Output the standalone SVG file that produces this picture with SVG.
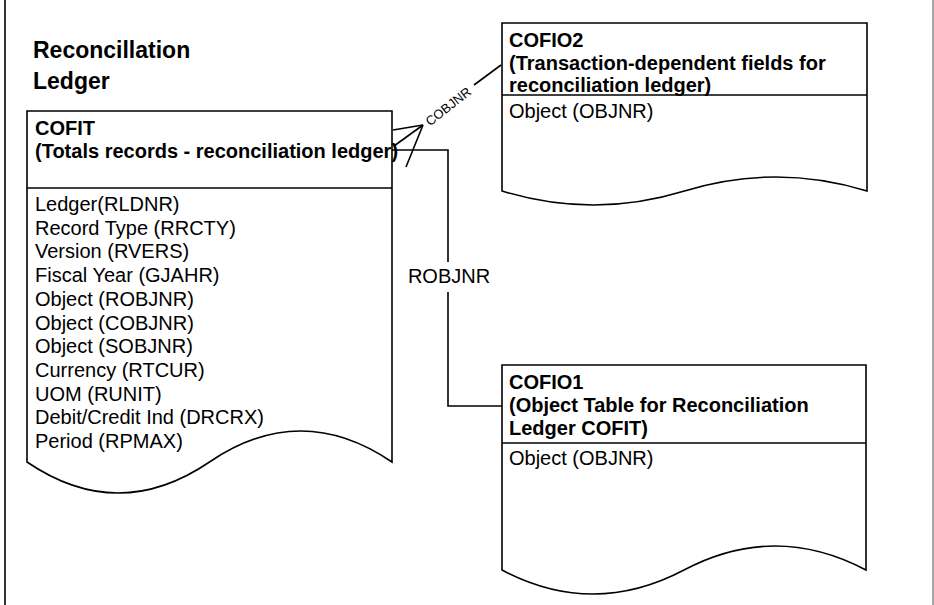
<svg xmlns="http://www.w3.org/2000/svg" width="934" height="605" viewBox="0 0 934 605">
<style>
.box{fill:#fff;stroke:#000;stroke-width:1.6}
.ln{fill:none;stroke:#000;stroke-width:1.6}
.h{font-family:"Liberation Sans",Arial,sans-serif;font-size:20px;font-weight:bold;fill:#000}
.t{font-family:"Liberation Sans",Arial,sans-serif;font-size:20px;fill:#000}
.title{font-family:"Liberation Sans",Arial,sans-serif;font-size:23px;font-weight:bold;fill:#000}
.lbl{font-family:"Liberation Sans",Arial,sans-serif;font-size:13px;fill:#000}
</style>
<rect width="934" height="605" fill="#fff"/>
<line x1="5" y1="0" x2="5" y2="605" stroke="#000" stroke-width="1.6"/>
<line x1="933" y1="0" x2="933" y2="605" stroke="#888" stroke-width="1.5"/>
<g id="title">
<text class="title" x="33" y="58">Reconcillation</text>
<text class="title" x="33" y="89">Ledger</text>
</g>
<g id="COFIT">
<path class="box" d="M27,111 H392 V462 Q300.75,400 209.5,462 T27,462 Z"/>
<line class="ln" x1="27" y1="188" x2="392" y2="188"/>
<text class="h" x="35" y="135">COFIT</text>
<text class="h" x="35" y="158">(Totals records - reconciliation ledger)</text>
<text class="t" x="35" y="211">Ledger(RLDNR)</text>
<text class="t" x="35" y="234.7">Record Type (RRCTY)</text>
<text class="t" x="35" y="258.4">Version (RVERS)</text>
<text class="t" x="35" y="282.1">Fiscal Year (GJAHR)</text>
<text class="t" x="35" y="305.8">Object (ROBJNR)</text>
<text class="t" x="35" y="329.5">Object (COBJNR)</text>
<text class="t" x="35" y="353.2">Object (SOBJNR)</text>
<text class="t" x="35" y="376.9">Currency (RTCUR)</text>
<text class="t" x="35" y="400.6">UOM (RUNIT)</text>
<text class="t" x="35" y="424.3">Debit/Credit Ind (DRCRX)</text>
<text class="t" x="35" y="448">Period (RPMAX)</text>
</g>
<g id="COFIO2">
<path class="box" d="M502,23 H867 V191 Q775.75,163 684.5,191 T502,191 Z"/>
<line class="ln" x1="502" y1="95" x2="867" y2="95"/>
<text class="h" x="509" y="47">COFIO2</text>
<text class="h" x="509" y="70">(Transaction-dependent fields for</text>
<text class="h" x="509" y="92">reconciliation ledger)</text>
<text class="t" x="509" y="118">Object (OBJNR)</text>
</g>
<g id="COFIO1">
<path class="box" d="M502,365 H866 V570 Q775,522 684,570 T502,570 Z"/>
<line class="ln" x1="502" y1="443" x2="866" y2="443"/>
<text class="h" x="509" y="389">COFIO1</text>
<text class="h" x="509" y="412">(Object Table for Reconciliation</text>
<text class="h" x="509" y="435">Ledger COFIT)</text>
<text class="t" x="509" y="465">Object (OBJNR)</text>
</g>
<g id="connectors">
<polyline class="ln" points="501,65 474,85"/>
<line class="ln" x1="423" y1="125" x2="393" y2="130"/>
<line class="ln" x1="423" y1="125" x2="394" y2="146"/>
<line class="ln" x1="423" y1="125" x2="406" y2="167"/>
<text class="lbl" x="0" y="0" text-anchor="middle" transform="translate(451,110) rotate(-38)">COBJNR</text>
<polyline class="ln" points="392,150 448,150 448,262"/>
<polyline class="ln" points="448,292 448,406 502,406"/>
<text class="t" x="449" y="283" text-anchor="middle">ROBJNR</text>
</g>
</svg>
